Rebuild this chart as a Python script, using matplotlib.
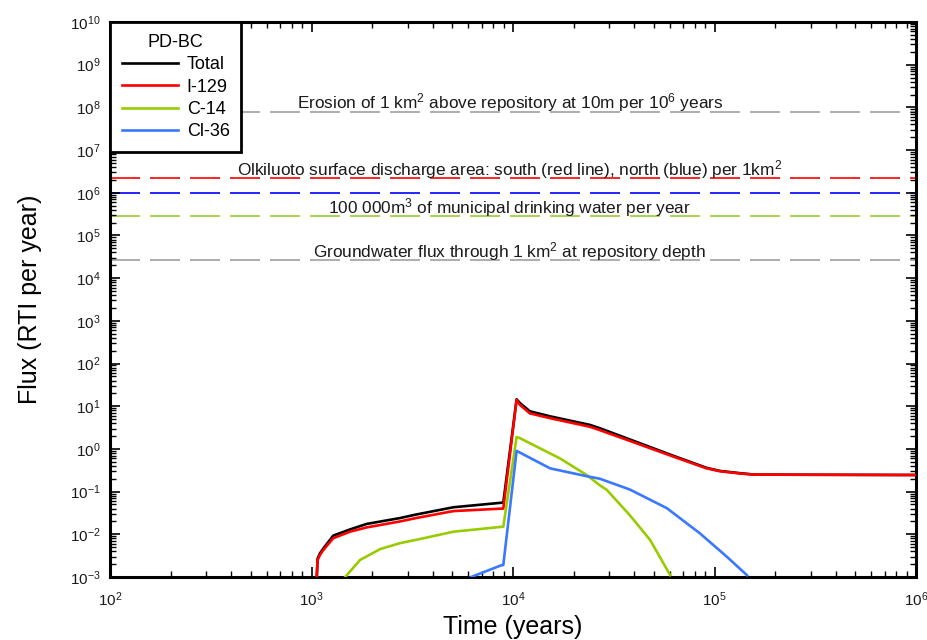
import numpy as np
import matplotlib
matplotlib.use("Agg")
import matplotlib.pyplot as plt
from matplotlib.ticker import LogLocator, FuncFormatter, NullFormatter

plt.rcParams['font.family'] = ['Liberation Sans', 'DejaVu Sans']
plt.rcParams['mathtext.fontset'] = 'custom'
plt.rcParams['mathtext.rm'] = 'Liberation Sans'
plt.rcParams['mathtext.it'] = 'Liberation Sans'

# ---------------- data ----------------
t_total = [1062, 1072, 1102, 1146, 1282, 1552, 1879, 2748, 3300, 5060, 8800, 8950,
           10420, 10840, 12130, 15280, 24100, 27000, 41100, 62500, 91400, 106400, 134000, 158000, 1000000]
f_total = [1e-3, 2.7e-3, 3.6e-3, 4.7e-3, 9.3e-3, 1.3e-2, 1.75e-2, 2.4e-2, 2.9e-2, 4.3e-2, 5.5e-2, 5.5e-2,
           14.5, 11.8, 7.6, 5.8, 3.65, 3.05, 1.45, 0.69, 0.36, 0.305, 0.27, 0.25, 0.245]

t_i129 = [1062, 1072, 1102, 1146, 1282, 1552, 1879, 2748, 3300, 5060, 8800, 8950,
          10420, 10840, 12130, 15280, 24100, 27000, 41100, 62500, 91400, 106400, 134000, 158000, 1000000]
f_i129 = [1e-3, 2.5e-3, 3.3e-3, 4.3e-3, 8.1e-3, 1.15e-2, 1.45e-2, 2.0e-2, 2.4e-2, 3.5e-2, 4.0e-2, 4.0e-2,
          14.0, 10.7, 6.8, 5.25, 3.3, 2.75, 1.35, 0.66, 0.35, 0.30, 0.265, 0.25, 0.245]

t_c14 = [1470, 1740, 2190, 2748, 3388, 5060, 8800, 8950, 10420, 10840, 17100, 23200, 27000, 29200, 38000, 47900, 60300]
f_c14 = [1e-3, 2.5e-3, 4.5e-3, 6.2e-3, 7.6e-3, 1.15e-2, 1.5e-2, 1.5e-2, 1.9, 1.78, 0.6, 0.245, 0.14, 0.11, 2.8e-2, 7.4e-3, 1.1e-3]

t_cl36 = [6200, 8800, 8950, 10420, 15300, 23200, 27000, 38000, 58000, 84700, 115000, 145000]
f_cl36 = [1e-3, 1.9e-3, 1.9e-3, 0.9, 0.35, 0.23, 0.2, 0.112, 0.041, 0.0105, 3.0e-3, 1.1e-3]

ref_values = [7.9e7, 2.17e6, 9.7e5, 2.85e5, 2.65e4]
ref_colors = ['#a0a0a0', '#ff0000', '#0000ff', '#99cc33', '#a0a0a0']

ref_labels = [r'Erosion of 1 km$^2$ above repository at 10m per 10$^6$ years',
              r'Olkiluoto surface discharge area: south (red line), north (blue) per 1km$^2$',
              r'100 000m$^3$ of municipal drinking water per year',
              r'Groundwater flux through 1 km$^2$ at repository depth']
ref_label_y = [7.9e7, 2.17e6, 2.85e5, 2.65e4]

series_names = ['Total', 'I-129', 'C-14', 'Cl-36']
series_colors = ['#000000', '#ff0000', '#99cc00', '#3a78ff']

# ---------------- figure ----------------
fig = plt.figure(figsize=(9.27, 6.4), dpi=100)
ax = fig.add_axes([110/927, 1-577/640, (916-110)/927, (577-22)/640])
ax.set_xscale('log')
ax.set_yscale('log')
ax.set_xlim(1e2, 1e6)
ax.set_ylim(1e-3, 1e10)

# reference dashed lines
for v, c in zip(ref_values, ref_colors):
    ax.axhline(v, color=c, lw=1.2, dashes=(18, 6), zorder=1)

for lab, yv in zip(ref_labels, ref_label_y):
    ax.text(9.65e3, yv * 1.17, lab, ha='center', va='baseline', fontsize=12.4, color='#1a1a1a')

# curves
data = [(t_total, f_total), (t_i129, f_i129), (t_c14, f_c14), (t_cl36, f_cl36)]
for (tx, fy), name, col in zip(data, series_names, series_colors):
    ax.plot(tx, fy, color=col, lw=1.9, label=name, zorder=3)

# ticks
ax.xaxis.set_major_locator(LogLocator(base=10, numticks=20))
ax.yaxis.set_major_locator(LogLocator(base=10, numticks=30))
ax.xaxis.set_minor_locator(LogLocator(base=10, subs=np.arange(2, 10), numticks=50))
ax.yaxis.set_minor_locator(LogLocator(base=10, subs=np.arange(2, 10), numticks=100))
fmt = FuncFormatter(lambda v, p: r'$10^{%d}$' % int(round(np.log10(v))))
ax.xaxis.set_major_formatter(fmt)
ax.yaxis.set_major_formatter(fmt)
ax.xaxis.set_minor_formatter(NullFormatter())
ax.yaxis.set_minor_formatter(NullFormatter())
ax.tick_params(which='both', direction='in', top=True, right=True, labelsize=11, colors='black', labelcolor='#1a1a1a')
ax.tick_params(which='major', length=7, width=1.2, pad=7)
ax.tick_params(axis='x', which='major', pad=10)
ax.tick_params(which='minor', length=4, width=1.0)
for s in ax.spines.values():
    s.set_linewidth(2.2)

ax.set_xlabel('Time (years)', fontsize=18, labelpad=4)
ax.set_ylabel('Flux (RTI per year)', fontsize=18, labelpad=20)

leg = ax.legend(loc='upper left', title='PD-BC', fontsize=13, title_fontsize=13,
                handlelength=3.1, borderaxespad=0, fancybox=False, framealpha=1,
                edgecolor='black', labelspacing=0.3, borderpad=0.65, handletextpad=0.5)
leg.get_frame().set_linewidth(2)

fig.savefig('out.png', dpi=100)
